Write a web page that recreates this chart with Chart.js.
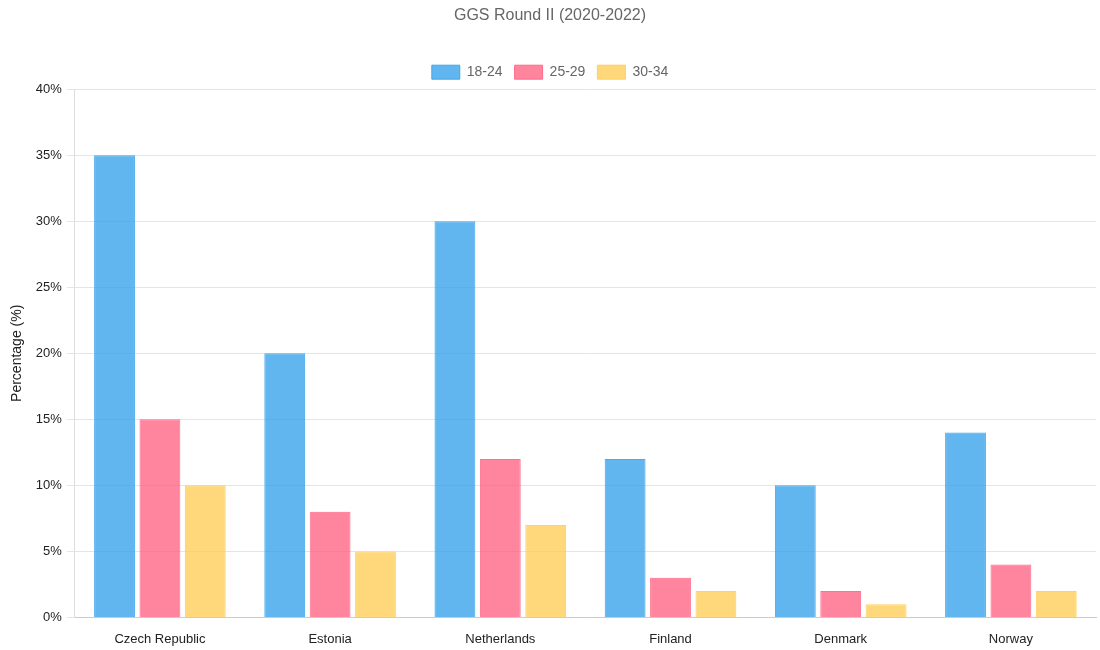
<!DOCTYPE html>
<html>
<head>
<meta charset="utf-8">
<script src="https://cdn.jsdelivr.net/npm/chart.js@4"></script>
<style>
    body { margin: 0; background: #fff; }
    #wrap { width: 1100px; height: 650px; }
</style>
</head>
<body>
<div id="wrap"><canvas id="myChart"></canvas></div>
<script>
var countries = ['Czech Republic', 'Estonia', 'Netherlands', 'Finland', 'Denmark', 'Norway'];
var ages18to24 = [35, 20, 30, 12, 10, 14];
var ages25to29 = [15, 8, 12, 3, 2, 4];
var ages30to34 = [10, 5, 7, 2, 1, 2];

var ctx = document.getElementById('myChart').getContext('2d');

var myChart = new Chart(ctx, {
    type: 'bar',
    data: {
        labels: countries,
        datasets: [
            {
                label: '18-24',
                data: ages18to24,
                backgroundColor: 'rgba(54, 162, 235, 0.78)',
                borderColor: 'rgba(54, 162, 235, 0.9)',
                borderWidth: 1
            },
            {
                label: '25-29',
                data: ages25to29,
                backgroundColor: 'rgba(255, 99, 132, 0.78)',
                borderColor: 'rgba(255, 99, 132, 0.9)',
                borderWidth: 1
            },
            {
                label: '30-34',
                data: ages30to34,
                backgroundColor: 'rgba(255, 205, 86, 0.78)',
                borderColor: 'rgba(255, 205, 86, 0.9)',
                borderWidth: 1
            }
        ]
    },
    options: {
        responsive: true,
        maintainAspectRatio: false,
        animation: false,
        layout: { padding: { left: 4, right: 4, bottom: -3 } },
        plugins: {
            title: {
                display: true,
                text: 'GGS Round II (2020-2022)',
                color: '#666',
                font: { family: 'Liberation Sans', size: 16, weight: 'normal' },
                padding: { top: 6, bottom: 28 }
            },
            legend: {
                labels: {
                    color: '#666',
                    font: { family: 'Liberation Sans', size: 14 },
                    boxWidth: 28,
                    boxHeight: 14,
                    padding: 12
                }
            }
        },
        scales: {
            x: {
                grid: { display: false },
                border: { color: '#ccc' },
                ticks: { color: '#222', font: { family: 'Liberation Sans', size: 13 }, padding: 6 }
            },
            y: {
                min: 0,
                max: 40,
                ticks: {
                    stepSize: 5,
                    padding: 5,
                    color: '#222',
                    font: { family: 'Liberation Sans', size: 13 },
                    callback: function(value) { return value + '%'; }
                },
                grid: { color: '#e5e5e5' },
                border: { color: '#ddd' },
                title: {
                    display: true,
                    text: 'Percentage (%)',
                    color: '#222',
                    padding: 5,
                    font: { family: 'Liberation Sans', size: 14 }
                }
            }
        }
    }
});
</script>
</body>
</html>
